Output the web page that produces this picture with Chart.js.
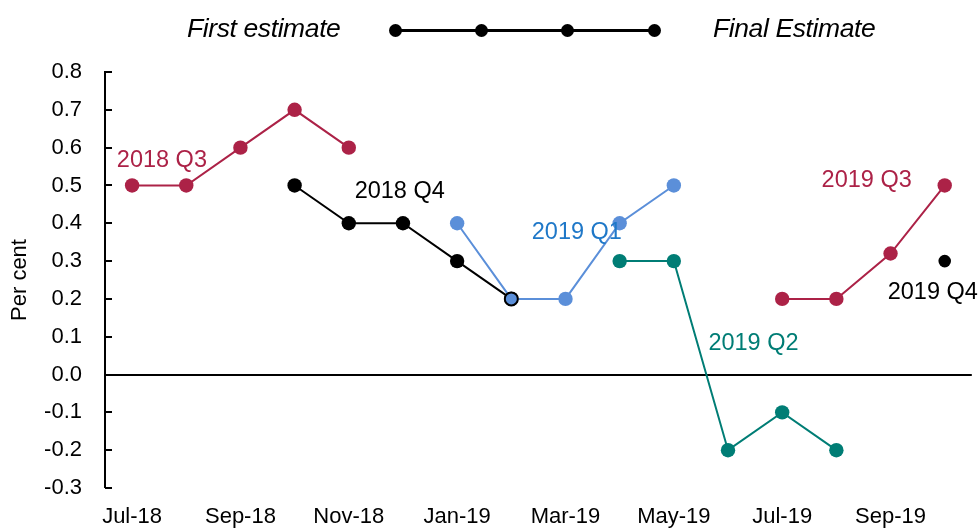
<!DOCTYPE html>
<html>
<head>
  <title>Estimates by quarter</title>
  <script src="https://cdn.jsdelivr.net/npm/chart.js"></script>
  <style>
    body {
      margin: 0;
      font-family: "Liberation Sans", Arial, sans-serif;
      background: #fff;
    }

    .wrap {
      position: relative;
      width: 979px;
      height: 529px;
    }

    /* legend strip at the top */
    .legend-text {
      position: absolute;
      top: 13px;
      font-size: 26.5px;
      font-style: italic;
      color: #000;
      letter-spacing: -0.4px;
    }

    .legend-line {
      position: absolute;
      left: 395px;
      top: 29px;
      width: 259px;
      height: 3px;
      background: #000;
    }

    .legend-dot {
      position: absolute;
      top: 24px;
      width: 13px;
      height: 13px;
      border-radius: 50%;
      background: #000;
    }
  </style>
</head>
<body>
  <div class="wrap">
    <canvas id="estimateChart"></canvas>
    <span class="legend-text" style="left:187px">First estimate</span>
    <div class="legend-line"></div>
    <div class="legend-dot" style="left:389px"></div>
    <div class="legend-dot" style="left:475px"></div>
    <div class="legend-dot" style="left:561px"></div>
    <div class="legend-dot" style="left:648px"></div>
    <span class="legend-text" style="left:713px">Final Estimate</span>
  </div>

  <script>
    // months on the x axis
    const months = ['Jul-18', 'Aug-18', 'Sep-18', 'Oct-18', 'Nov-18', 'Dec-18',
                    'Jan-19', 'Feb-19', 'Mar-19', 'Apr-19', 'May-19', 'Jun-19',
                    'Jul-19', 'Aug-19', 'Sep-19', 'Oct-19'];

    // estimates for each quarter (null = no estimate that month)
    const q3_2018 = [0.5, 0.5, 0.6, 0.7, 0.6, null, null, null, null, null, null, null, null, null, null, null];
    const q4_2018 = [null, null, null, 0.5, 0.4, 0.4, 0.3, 0.2, null, null, null, null, null, null, null, null];
    const q1_2019 = [null, null, null, null, null, null, 0.4, 0.2, 0.2, 0.4, 0.5, null, null, null, null, null];
    const q2_2019 = [null, null, null, null, null, null, null, null, null, 0.3, 0.3, -0.2, -0.1, -0.2, null, null];
    const q3_2019 = [null, null, null, null, null, null, null, null, null, null, null, null, 0.2, 0.2, 0.32, 0.5];
    const q4_2019 = [null, null, null, null, null, null, null, null, null, null, null, null, null, null, null, 0.3];

    const yTicks = [-0.3, -0.2, -0.1, 0.0, 0.1, 0.2, 0.3, 0.4, 0.5, 0.6, 0.7, 0.8];

    const RED = '#AC2247';
    const BLUE = '#5B8FD9';
    const BLUE_TEXT = '#1F78C8';
    const TEAL = '#007D75';

    // series name labels, placed in data space (category index, value)
    const seriesLabels = [
      { text: '2018 Q3', color: RED, at: 0.55, value: 0.567 },
      { text: '2018 Q4', color: '#000', at: 4.94, value: 0.485 },
      { text: '2019 Q1', color: BLUE_TEXT, at: 8.21, value: 0.375 },
      { text: '2019 Q2', color: TEAL, at: 11.47, value: 0.081 },
      { text: '2019 Q3', color: RED, at: 13.56, value: 0.514 },
      { text: '2019 Q4', color: '#000', at: 14.78, value: 0.216 }
    ];

    Chart.defaults.font.family = '"Liberation Sans", Arial, sans-serif';
    Chart.defaults.color = '#000';

    function series(data, color, radius) {
      return {
        data: data,
        borderColor: color,
        backgroundColor: color,
        pointBackgroundColor: color,
        pointBorderColor: color,
        borderWidth: 2,
        pointRadius: radius,
        pointHoverRadius: radius,
        pointBorderWidth: 0,
        spanGaps: false,
        tension: 0
      };
    }

    // the Feb-19 point is shared with 2018 Q4, so it gets a black ring
    const q1Set = series(q1_2019, BLUE, 7.2);
    q1Set.pointBorderColor = months.map(m => (m === 'Feb-19' ? '#000' : BLUE));
    q1Set.pointBorderWidth = months.map(m => (m === 'Feb-19' ? 2 : 0));
    q1Set.pointRadius = months.map(m => (m === 'Feb-19' ? 6.5 : 7.2));

    const datasets = [
      q1Set,
      series(q4_2018, '#000', 7.2),
      series(q3_2018, RED, 7.2),
      series(q2_2019, TEAL, 7.2),
      series(q3_2019, RED, 7.2),
      series(q4_2019, '#000', 6.3)
    ];
    // draw blue on top of black
    datasets.forEach((d, i) => { d.order = i; });

    // inward tick marks on the y axis + series name labels
    const extras = {
      id: 'extras',
      afterDatasetsDraw(chart) {
        const ctx = chart.ctx;
        const x = chart.scales.x;
        const y = chart.scales.y;
        ctx.save();
        ctx.strokeStyle = '#000';
        ctx.lineWidth = 2;
        yTicks.forEach(v => {
          const py = Math.round(y.getPixelForValue(v));
          ctx.beginPath();
          ctx.moveTo(y.right, py);
          ctx.lineTo(y.right + 7, py);
          ctx.stroke();
        });
        ctx.font = '23.5px "Liberation Sans", Arial, sans-serif';
        ctx.textAlign = 'center';
        ctx.textBaseline = 'middle';
        seriesLabels.forEach(l => {
          ctx.fillStyle = l.color;
          ctx.fillText(l.text, x.getPixelForValue(l.at), y.getPixelForValue(l.value));
        });
        ctx.restore();
      }
    };

    const ctx = document.getElementById('estimateChart').getContext('2d');
    new Chart(ctx, {
      type: 'line',
      data: {
        labels: months,
        datasets: datasets
      },
      plugins: [extras],
      options: {
        responsive: true,
        maintainAspectRatio: false,
        animation: false,
        layout: {
          padding: { top: 72, right: 7, left: 0, bottom: 0 }
        },
        plugins: {
          legend: { display: false },
          tooltip: { enabled: false }
        },
        scales: {
          x: {
            offset: true,
            grid: { display: false, drawTicks: false },
            border: { display: false },
            ticks: {
              autoSkip: false,
              maxRotation: 0,
              padding: 16,
              font: { size: 22 },
              callback: function (val, index) {
                return index % 2 === 0 ? months[index] : '';
              }
            },
            afterFit: function (scale) { scale.height = 41; }
          },
          y: {
            min: -0.3,
            max: 0.8,
            afterBuildTicks: function (scale) {
              scale.ticks = yTicks.map(v => ({ value: v }));
            },
            grid: {
              drawTicks: false,
              color: c => (Math.abs(c.tick.value) < 1e-9 ? '#000' : 'rgba(0,0,0,0)'),
              lineWidth: c => (Math.abs(c.tick.value) < 1e-9 ? 2 : 0)
            },
            border: { display: true, color: '#000', width: 2 },
            ticks: {
              padding: 23,
              font: { size: 22 },
              callback: v => v.toFixed(1)
            },
            title: {
              display: true,
              text: 'Per cent',
              font: { size: 22 },
              padding: { top: 7, bottom: 0 }
            },
            afterFit: function (scale) { scale.width = 105; }
          }
        }
      }
    });
  </script>
</body>
</html>
